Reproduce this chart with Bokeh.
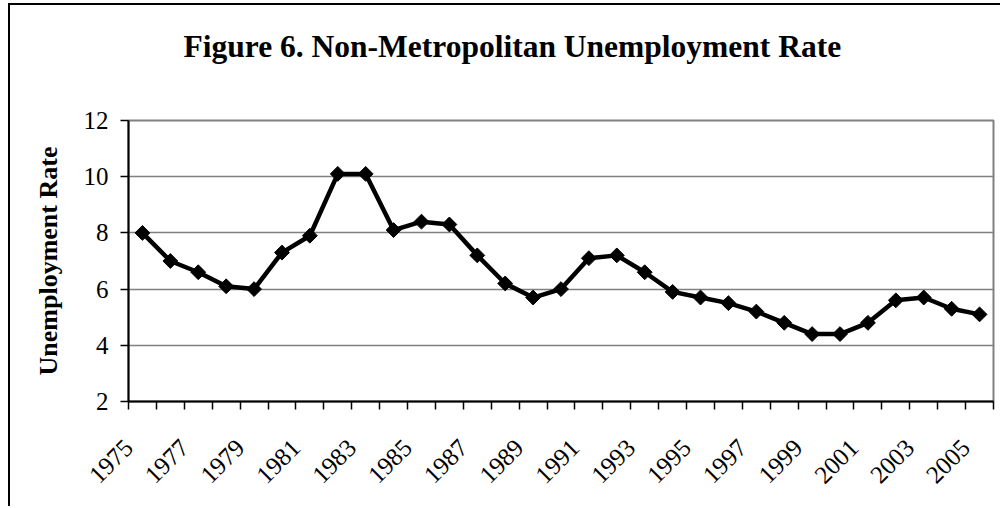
import numpy as np
from bokeh.plotting import figure
from bokeh.models import Range1d, FixedTicker, Title
from bokeh.embed import file_html
from bokeh.resources import INLINE

years = [1975, 1976, 1977, 1978, 1979, 1980, 1981, 1982, 1983, 1984,
         1985, 1986, 1987, 1988, 1989, 1990, 1991, 1992, 1993, 1994,
         1995, 1996, 1997, 1998, 1999, 2000, 2001, 2002, 2003, 2004, 2005]
rate = [8.0, 7.0, 6.6, 6.1, 6.0, 7.3, 7.9, 10.1, 10.1, 8.1,
        8.4, 8.3, 7.2, 6.2, 5.7, 6.0, 7.1, 7.2, 6.6, 5.9,
        5.7, 5.5, 5.2, 4.8, 4.4, 4.4, 4.8, 5.6, 5.7, 5.3, 5.1]
label_years = [1975, 1977, 1979, 1981, 1983, 1985, 1987, 1989, 1991, 1993,
               1995, 1997, 1999, 2001, 2003, 2005]
label_texts = ["1975", "1977", "1979", "1981", "1983", "1985", "1987", "1989",
               "1991", "1993", "1995", "1997", "1999", "2001", "2003", "2005"]
y_ticks = [2, 4, 6, 8, 10, 12]
title_text = "Figure 6. Non-Metropolitan Unemployment Rate"
y_title = "Unemployment Rate"

FONT = "Liberation Serif"

p = figure(width=992, height=503, output_backend="svg", toolbar_location=None,
           x_range=Range1d(years[0] - 0.5, years[-1] + 0.5),
           y_range=Range1d(2, 12),
           min_border_left=118, min_border_right=9, min_border_top=115,
           min_border_bottom=107)
p.styles = {"margin-left": "8px", "margin-top": "3px",
            "border-left": "2px solid black", "border-top": "2px solid black"}

p.background_fill_color = "white"
p.border_fill_color = "white"
p.outline_line_color = "#808080"
p.outline_line_width = 2

# title: a white (invisible on white) spacer panel nearest the frame keeps
# the title well above the plot area
p.title.text = ""
spacer = Title(text=".", text_font_size="10px", standoff=47,
               text_color="white")
p.add_layout(spacer, "above")
main_title = Title(text=title_text, align="left", offset=55, standoff=0,
                   text_font=FONT, text_font_style="bold",
                   text_font_size="31.5px", text_color="black")
p.add_layout(main_title, "above")

# grid
p.xgrid.visible = False
p.ygrid.grid_line_color = "#808080"
p.ygrid.grid_line_width = 1.5
p.ygrid.ticker = FixedTicker(ticks=y_ticks)

# x axis: category boundaries carry the tick marks; labels sit at the
# left boundary of each labelled year (Excel-style rotated labels)
label_pos = [y - 0.5 for y in label_years]
xa = p.xaxis[0]
xa.ticker = FixedTicker(ticks=label_pos,
                        minor_ticks=[y - 0.5 for y in years] + [years[-1] + 0.5])
xa.major_label_overrides = {pos: t for pos, t in zip(label_pos, label_texts)}
xa.major_tick_out = 0
xa.major_tick_in = 0
xa.minor_tick_out = 8
xa.minor_tick_in = 0
xa.minor_tick_line_color = "black"
xa.minor_tick_line_width = 1.5
xa.axis_line_color = "black"
xa.axis_line_width = 2
xa.major_label_orientation = np.pi / 4
xa.major_label_text_font = FONT
xa.major_label_text_font_size = "25px"
xa.major_label_text_color = "black"
xa.major_label_standoff = 34

# y axis
ya = p.yaxis[0]
ya.ticker = FixedTicker(ticks=y_ticks)
ya.major_tick_out = 8
ya.major_tick_in = 0
ya.minor_tick_out = 0
ya.minor_tick_in = 0
ya.major_tick_line_color = "black"
ya.major_tick_line_width = 1.5
ya.axis_line_color = "black"
ya.axis_line_width = 2
ya.major_label_text_font = FONT
ya.major_label_text_font_size = "25px"
ya.major_label_text_color = "black"
ya.major_label_standoff = 12
ya.axis_label = y_title
ya.axis_label_text_font = FONT
ya.axis_label_text_font_style = "bold"
ya.axis_label_text_font_size = "26px"
ya.axis_label_text_color = "black"
ya.axis_label_standoff = 18

# data
p.line(years, rate, line_color="black", line_width=4.5, line_join="round")
p.scatter(years, rate, marker="square", angle=np.pi / 4, size=10.5,
          fill_color="black", line_color="black", line_width=1)

open("out.html", "w").write(file_html(p, INLINE))
